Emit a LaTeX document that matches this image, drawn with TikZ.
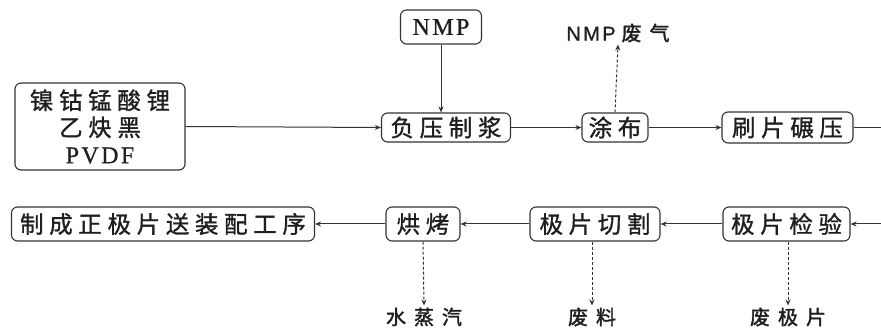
\documentclass[tikz,border=0pt]{standalone}
\usepackage{fontspec}
\usetikzlibrary{arrows.meta}
\newfontfamily\cjkbox[LetterSpace=24, FakeBold=1.2]{Noto Sans CJK SC}
\newfontfamily\cjklab[LetterSpace=40, FakeBold=1.8]{Noto Sans CJK SC}
\newfontfamily\latbox[LetterSpace=10, FakeBold=0.8]{Liberation Serif}
\newfontfamily\latlab[LetterSpace=12, FakeBold=1]{Liberation Sans}
\begin{document}
\begin{tikzpicture}[x=1pt,y=-1pt,
  proc/.style={draw=black!80, line width=1.1pt, rounded corners=6pt, inner sep=0pt,
     font=\cjkbox\fontsize{23.5}{28}\selectfont, text=black!88},
  lab/.style={font=\cjklab\fontsize{20}{22}\selectfont, text=black!88, inner sep=2pt},
  flow/.style={line width=1pt, draw=black!80, -{Stealth[length=6pt,width=5pt]}},
  waste/.style={flow, dash pattern=on 3pt off 2pt}
]
\useasboundingbox (0,0) rectangle (881,328);
\node[proc, minimum width=170, minimum height=87, align=center, font=\cjkbox\fontsize{23.5}{27}\selectfont] (in) at (100,126.5)
  {镍钴锰酸锂\\乙炔黑\\{\latbox\fontsize{24}{27}\selectfont PVDF}};
\node[proc, minimum width=81, minimum height=34, font=\latbox\fontsize{24}{28}\selectfont] (nmp) at (441,27) {NMP};
\node[proc, minimum width=129, minimum height=29] (fyz) at (446,127.5) {负压制浆};
\node[proc, minimum width=66, minimum height=29] (tb) at (615,127.5) {涂布};
\node[proc, minimum width=131, minimum height=31] (sp) at (787.5,127.5) {刷片碾压};
\node[proc, minimum width=127, minimum height=34] (jy) at (786.5,224) {极片检验};
\node[proc, minimum width=130, minimum height=34] (qg) at (595,224) {极片切割};
\node[proc, minimum width=74, minimum height=34] (hk) at (423,224) {烘烤};
\node[proc, minimum width=303, minimum height=34] (zc) at (163,224) {制成正极片送装配工序};

\node[lab] (gas) at (618,33) {{\latlab NMP}\hspace{6pt}废气};
\node[lab] (steam) at (424,317) {水蒸汽};
\node[lab] (scrap) at (592,317) {废料};
\node[lab] (bad) at (788,317) {废极片};

\coordinate (r1) at (881,127.5);
\coordinate (r2) at (881,224);

\draw[flow] (in.east) -- (fyz.west);
\draw[flow] (nmp.south) -- (nmp.south |- fyz.north);
\draw[flow] (fyz.east) -- (tb.west);
\draw[waste] (tb.north) -- (gas.south);
\draw[flow] (tb.east) -- (sp.west);
\draw[line width=1pt, draw=black!80] (sp.east) -- (r1);
\draw[flow] (r2) -- (jy.east);
\draw[flow] (jy.west) -- (qg.east);
\draw[flow] (qg.west) -- (hk.east);
\draw[flow] (hk.west) -- (zc.east);
\draw[waste] (hk.south) -- (steam.north);
\draw[waste] (qg.south -| scrap.north) -- (scrap.north);
\draw[waste] (jy.south -| bad.north) -- (bad.north);
\end{tikzpicture}
\end{document}
